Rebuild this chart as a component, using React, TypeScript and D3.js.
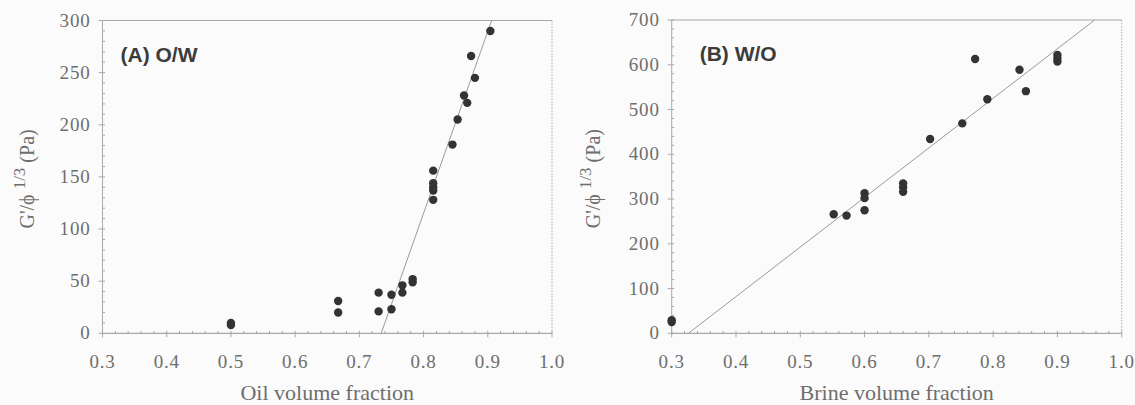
import React from 'react';
import * as d3 from 'd3';

// (A) O/W emulsions: oil volume fraction vs G'/phi^(1/3)
const owFraction = [0.5, 0.5, 0.667, 0.667, 0.73, 0.73, 0.75, 0.75, 0.767, 0.767, 0.783, 0.783,
  0.815, 0.815, 0.815, 0.815, 0.815, 0.845, 0.853, 0.863, 0.868, 0.874, 0.88, 0.904];
const owModulus = [8, 10, 31, 20, 39, 21, 37, 23, 46, 39, 52, 49,
  156, 144, 140, 137, 128, 181, 205, 228, 221, 266, 245, 290];
const owFit = [[0.734, 0], [0.906, 300]];

// (B) W/O emulsions: brine volume fraction vs G'/phi^(1/3)
const woFraction = [0.3, 0.3, 0.552, 0.572, 0.6, 0.6, 0.6, 0.66, 0.66, 0.66, 0.702, 0.752,
  0.772, 0.791, 0.841, 0.851, 0.9, 0.9, 0.9];
const woModulus = [25, 29, 266, 263, 313, 302, 275, 335, 326, 316, 434, 469,
  613, 523, 589, 541, 622, 614, 607];
const woFit = [[0.326, 0], [0.958, 700]];

const xTicks = [0.3, 0.4, 0.5, 0.6, 0.7, 0.8, 0.9, 1.0];
const owYTicks = [0, 50, 100, 150, 200, 250, 300];
const woYTicks = [0, 100, 200, 300, 400, 500, 600, 700];

const textColor = '#6e6e6e';
const lineColor = '#a8a8a8';
const dotColor = '#333';

type PanelProps = {
  left: number;
  right: number;
  top: number;
  bottom: number;
  xs: number[];
  ys: number[];
  fit: number[][];
  yMax: number;
  yTicks: number[];
  yMinor: number;
  title: string;
  titleDx: number;
  xTitle: string;
  yTitleX: number;
};

function Panel(props: PanelProps) {
  const { left, right, top, bottom, xs, ys, fit, yMax, yTicks, yMinor, title, titleDx, xTitle, yTitleX } = props;
  const x = d3.scaleLinear().domain([0.3, 1.0]).range([left, right]);
  const y = d3.scaleLinear().domain([0, yMax]).range([bottom, top]);
  const line = d3.line<number[]>().x(d => x(d[0])).y(d => y(d[1]));
  const xMinor = d3.range(0.3, 1.0001, 0.02);
  const yMinorTicks = d3.range(0, yMax + 0.001, yMinor);
  const serif = '"Liberation Serif", "Times New Roman", serif';
  const yMid = (top + bottom) / 2;

  return (
    <g>
      {/* frame */}
      <line x1={left} x2={right} y1={top} y2={top} stroke={lineColor} strokeWidth={1.2} />
      <line x1={right} x2={right} y1={top} y2={bottom} stroke={lineColor} strokeWidth={1} strokeDasharray="1.5,1.5" />
      <line x1={left} x2={left} y1={top} y2={bottom} stroke={lineColor} strokeWidth={1} />
      <line x1={left} x2={right} y1={bottom} y2={bottom} stroke={lineColor} strokeWidth={1.2} />

      {/* minor ticks */}
      {xMinor.map((t, i) => (
        <line key={'xm' + i} x1={x(t)} x2={x(t)} y1={bottom} y2={bottom - 2.5} stroke={lineColor} />
      ))}
      {yMinorTicks.map((t, i) => (
        <line key={'ym' + i} x1={left} x2={left + 2.5} y1={y(t)} y2={y(t)} stroke={lineColor} />
      ))}

      {/* major ticks + labels */}
      {xTicks.map(t => (
        <g key={'x' + t}>
          <line x1={x(t)} x2={x(t)} y1={bottom} y2={bottom + 4} stroke={lineColor} />
          <text x={x(t)} y={bottom + 35} textAnchor="middle" fontFamily={serif} fontSize={19}
            letterSpacing={0.8} fill={textColor}>
            {t.toFixed(1)}
          </text>
        </g>
      ))}
      {yTicks.map(t => (
        <g key={'y' + t}>
          <line x1={left - 4} x2={left} y1={y(t)} y2={y(t)} stroke={lineColor} />
          <text x={left - 12} y={y(t) + 6} textAnchor="end" fontFamily={serif} fontSize={19}
            letterSpacing={0.8} fill={textColor}>
            {t}
          </text>
        </g>
      ))}

      {/* fitted line */}
      <path d={line(fit) || ''} fill="none" stroke="#9a9a9a" strokeWidth={1} />

      {/* data */}
      {xs.map((v, i) => (
        <circle key={'p' + i} cx={x(v)} cy={y(ys[i])} r={4.2} fill={dotColor} />
      ))}

      <text x={left + titleDx} y={top + 41} fontFamily='"Liberation Sans", Arial, sans-serif' fontWeight="bold"
        fontSize={21} fill="#3c3c3c">
        {title}
      </text>

      <text x={(left + right) / 2} y={bottom + 67} textAnchor="middle" fontFamily={serif} fontSize={22} fill={textColor}>
        {xTitle}
      </text>

      <text transform={`translate(${yTitleX},${yMid + 2}) rotate(-90)`} textAnchor="middle"
        fontFamily={serif} fontSize={20} fill={textColor}>
        G'/ϕ <tspan dy={-9} fontSize={17}>1/3</tspan><tspan dy={9}> (Pa)</tspan>
      </text>
    </g>
  );
}

export default function App() {
  return (
    <svg width={1135} height={405} style={{ display: 'block', position: 'absolute', left: 0, top: 0, background: '#fbfbfb' }}>
      <Panel left={102.5} right={552} top={20.5} bottom={333.3}
        xs={owFraction} ys={owModulus} fit={owFit} yMax={300} yTicks={owYTicks} yMinor={10}
        title="(A) O/W" titleDx={18} xTitle="Oil volume fraction" yTitleX={34} />
      <Panel left={671.7} right={1121.7} top={20} bottom={333.3}
        xs={woFraction} ys={woModulus} fit={woFit} yMax={700} yTicks={woYTicks} yMinor={20}
        title="(B) W/O" titleDx={28} xTitle="Brine volume fraction" yTitleX={600} />
    </svg>
  );
}
